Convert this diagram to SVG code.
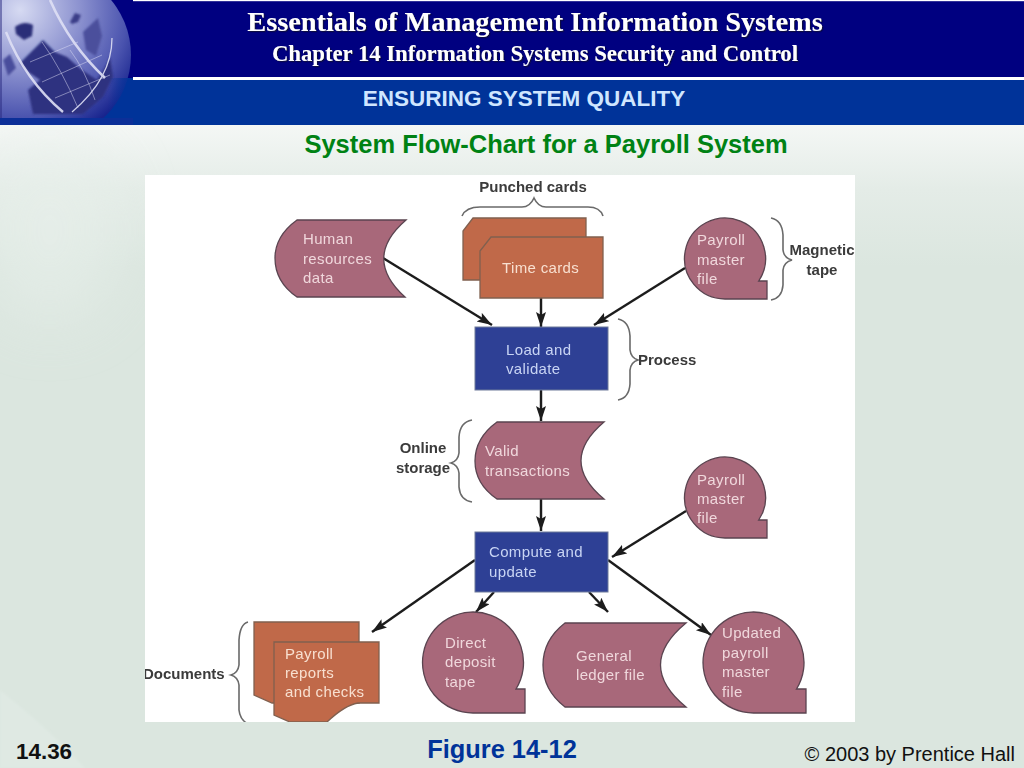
<svg xmlns="http://www.w3.org/2000/svg" width="1024" height="768" viewBox="0 0 1024 768">
<style>
.tape{fill:#a8677a;stroke:#5a4450;stroke-width:1.3}
.card{fill:#c0694a;stroke:#80604f;stroke-width:1.3}
.proc{fill:#2f4195;stroke:#6f7a9a;stroke-width:1}
.t{font-family:"Liberation Sans",Arial,sans-serif;font-size:15px;letter-spacing:.35px}
.lt{fill:#f0d8dc}.lc{fill:#f8e0d0}.lb{fill:#c8d4f4}
.lab{font-family:"Liberation Sans",Arial,sans-serif;font-size:15px;font-weight:bold;fill:#3a3a3a}
.br{fill:none;stroke:#6a6a6a;stroke-width:1.6}
.ar{fill:none;stroke:#1c1c1c;stroke-width:2.4;marker-end:url(#ah)}
.ttl{font-family:"Liberation Serif","Times New Roman",serif;font-weight:bold;fill:#fff;text-anchor:middle;filter:url(#sh)}
.sans{font-family:"Liberation Sans",Arial,sans-serif;font-weight:bold}
</style>
<defs>
<marker id="ah" markerUnits="userSpaceOnUse" markerWidth="16" markerHeight="12" refX="15" refY="5" orient="auto"><path d="M0 0L15 5L0 10L3 5Z" fill="#1c1c1c"/></marker>
<linearGradient id="bg" x1="0" y1="125" x2="0" y2="768" gradientUnits="userSpaceOnUse"><stop offset="0" stop-color="#f4f7f5"/><stop offset=".1" stop-color="#e4ece7"/><stop offset=".22" stop-color="#dbe6df"/><stop offset="1" stop-color="#dbe6df"/></linearGradient>
<radialGradient id="gl" gradientUnits="userSpaceOnUse" cx="20" cy="10" r="135"><stop offset="0" stop-color="#d6daf2"/><stop offset=".45" stop-color="#8b91cf"/><stop offset=".8" stop-color="#4a53ae"/><stop offset="1" stop-color="#18248e"/></radialGradient>
<linearGradient id="fade" x1="0" x2="1"><stop offset="0" stop-color="#003399" stop-opacity="0"/><stop offset="1" stop-color="#003399"/></linearGradient>
<filter id="sh" x="-5%" y="-30%" width="110%" height="160%"><feDropShadow dx="1.2" dy="1.2" stdDeviation=".5" flood-color="#101040"/></filter>
<filter id="soft"><feGaussianBlur stdDeviation=".45"/></filter>
<filter id="g1"><feGaussianBlur stdDeviation="1"/></filter>
<filter id="cloud" x="-50%" y="-50%" width="200%" height="200%"><feGaussianBlur stdDeviation="30"/></filter>
<clipPath id="gc"><rect x="0" y="0" width="133" height="118"/></clipPath>
<clipPath id="panel"><rect x="145" y="175" width="710" height="547"/></clipPath>
</defs>

<g id="background">
<rect width="1024" height="768" fill="url(#bg)"/>
<ellipse cx="50" cy="230" rx="70" ry="90" fill="#e8f0eb" opacity=".6" filter="url(#cloud)"/>
<path d="M0 690Q50 730 85 768H0Z" fill="#dfe9e3" filter="url(#g1)"/>
</g>

<g id="header">
<rect x="0" y="0" width="1024" height="78" fill="#000080"/>
<rect x="0" y="80" width="1024" height="45" fill="#003399"/>
<rect x="133" y="77" width="891" height="3" fill="#fff"/>
<rect x="133" y="0" width="891" height="1.2" fill="#fff"/>
<g id="globe" clip-path="url(#gc)">
<rect x="0" y="0" width="133" height="118" fill="#000080"/>
<rect x="0" y="78" width="133" height="40" fill="#003399"/>
<circle cx="45" cy="55" r="86" fill="url(#gl)"/>
<g filter="url(#g1)">
<path d="M33 50L43 40L55 52L67 57L82 70L97 80L106 66L110 57L113 77L103 97L83 114H33L28 90L40 80L28 72L20 63Z" fill="#2f3280"/>
<path d="M15 27Q24 20 33 25L32 36L24 40L16 34Z" fill="#2a2d78"/>
<path d="M70 22L75 13L81 15L78 22L72 24Z" fill="#3a3d88"/>
<path d="M83 32L98 18L102 36L96 56L86 50Z" fill="#4c4f9c"/>
<path d="M3 60L10 54L16 68L8 76Z" fill="#4a4e9c"/>
</g>
<g fill="none" stroke="#dfe0f5" opacity=".9">
<path d="M50 0Q70 45 105 78" stroke-width="2.6"/>
<path d="M6 32Q25 80 63 112" stroke-width="2.4"/>
<path d="M112 38Q112 78 72 112" stroke-width="1.3"/>
<path d="M30 62L78 42M42 82L102 55M55 98L110 75" stroke-width=".9" opacity=".6"/>
<path d="M42 42Q62 70 78 108M70 50Q85 70 95 100" stroke-width=".9" opacity=".6"/>
</g>
<rect x="0" y="0" width="2" height="118" fill="#2a2a80" opacity=".5"/>
<rect x="108" y="78" width="25" height="40" fill="url(#fade)"/>
</g>
<rect x="0" y="118" width="133" height="7" fill="#0c2f98"/>
<text class="ttl" x="535" y="31" font-size="28.300px">Essentials of Management Information Systems</text>
<text class="ttl" x="535" y="61" font-size="22.700px">Chapter 14 Information Systems Security and Control</text>
<text class="sans" x="524" y="106" font-size="22.500px" text-anchor="middle" fill="#cfe6ff">ENSURING SYSTEM QUALITY</text>
</g>

<text id="title" class="sans" x="546" y="153" font-size="25.500px" text-anchor="middle" fill="#008214">System Flow-Chart for a Payroll System</text>

<rect id="panel-bg" x="145" y="175" width="710" height="547" fill="#fff"/>

<g id="diagram" clip-path="url(#panel)">
<g filter="url(#soft)">
<g id="connectors">
<path class="ar" d="M383 258L492 325"/>
<path class="ar" d="M541 298V327"/>
<path class="ar" d="M685 268L594 325"/>
<path class="ar" d="M541 390V421"/>
<path class="ar" d="M541 499V531"/>
<path class="ar" d="M686 511L612 557"/>
<path class="ar" d="M475 560L372 632"/>
<path class="ar" d="M494 592L476 612"/>
<path class="ar" d="M589 592L608 612"/>
<path class="ar" d="M608 560L711 635"/>
</g>

<g id="node-human-resources">
<path class="tape" d="M297 220H406Q362 258 405 297H297Q275 282 275 258Q275 236 297 220Z"/>
<text class="t lt"><tspan x="303" y="244">Human</tspan><tspan x="303" y="264">resources</tspan><tspan x="303" y="283">data</tspan></text>
</g>
<g id="node-time-cards">
<path class="card" d="M473 218H586V280H463V231Z"/>
<path class="card" d="M491 237H603V298H480V251Z"/>
<text class="t lc" x="502" y="273">Time cards</text>
</g>
<g id="node-payroll-1">
<path class="tape" d="M767 299H725A40.500 40.500 0 1 1 758.700 281H767Z"/>
<text class="t lt"><tspan x="697" y="245">Payroll</tspan><tspan x="697" y="265">master</tspan><tspan x="697" y="284">file</tspan></text>
</g>
<g id="node-load-validate">
<rect class="proc" x="475" y="327" width="133" height="63"/>
<text class="t lb"><tspan x="506" y="355">Load and</tspan><tspan x="506" y="374">validate</tspan></text>
</g>
<g id="node-valid-transactions">
<path class="tape" d="M497 422H604Q558 461 604 499H497Q475 484 475 461Q475 438 497 422Z"/>
<text class="t lt"><tspan x="485" y="456">Valid</tspan><tspan x="485" y="476">transactions</tspan></text>
</g>
<g id="node-payroll-2">
<path class="tape" d="M767 538H725A40.500 40.500 0 1 1 758.700 520H767Z"/>
<text class="t lt"><tspan x="697" y="485">Payroll</tspan><tspan x="697" y="504">master</tspan><tspan x="697" y="523">file</tspan></text>
</g>
<g id="node-compute-update">
<rect class="proc" x="475" y="532" width="133" height="60"/>
<text class="t lb"><tspan x="489" y="557">Compute and</tspan><tspan x="489" y="577">update</tspan></text>
</g>
<g id="node-payroll-reports">
<path class="card" d="M254 622H359V703H272L254 695Z"/>
<path class="card" d="M274 642H379V703H358Q345 705 327 722H290L274 715Z"/>
<text class="t lc"><tspan x="285" y="659">Payroll</tspan><tspan x="285" y="678">reports</tspan><tspan x="285" y="697">and checks</tspan></text>
</g>
<g id="node-direct-deposit">
<path class="tape" d="M525 713H473A50.500 50.500 0 1 1 516 689H525Z"/>
<text class="t lt"><tspan x="445" y="648">Direct</tspan><tspan x="445" y="667">deposit</tspan><tspan x="445" y="687">tape</tspan></text>
</g>
<g id="node-general-ledger">
<path class="tape" d="M565 623H686Q635 665 686 707H565Q543 690 543 665Q543 640 565 623Z"/>
<text class="t lt"><tspan x="576" y="661">General</tspan><tspan x="576" y="680">ledger file</tspan></text>
</g>
<g id="node-updated-payroll">
<path class="tape" d="M806 713H753.500A50.500 50.500 0 1 1 796.500 689H806Z"/>
<text class="t lt"><tspan x="722" y="638">Updated</tspan><tspan x="722" y="658">payroll</tspan><tspan x="722" y="677">master</tspan><tspan x="722" y="697">file</tspan></text>
</g>

<g id="annotations">
<path class="br" d="M462 216Q466 207 480 207H522Q530 207 534 198Q538 207 546 207H588Q600 207 603 216"/>
<text class="lab" x="533" y="192" text-anchor="middle">Punched cards</text>
<path class="br" d="M771 218Q782 220 783 235V250Q784 258 792 260Q784 262 783 270V285Q782 298 771 300"/>
<text class="lab" x="822" y="255" text-anchor="middle">Magnetic</text>
<text class="lab" x="822" y="275" text-anchor="middle">tape</text>
<path class="br" d="M618 319Q629 321 630 336V350Q631 358 638 360Q631 362 630 370V384Q629 398 618 400"/>
<text class="lab" x="638" y="365">Process</text>
<path class="br" d="M472 420Q460 422 459 437V453Q458 461 451 463Q458 465 459 473V487Q460 500 472 502"/>
<text class="lab" x="423" y="453" text-anchor="middle">Online</text>
<text class="lab" x="423" y="473" text-anchor="middle">storage</text>
<path class="br" d="M248 622Q240 624 239 640V665Q238 673 231 675Q238 677 239 685V710Q240 720 248 724"/>
<text class="lab" x="143" y="679">Documents</text>
</g>
</g>
</g>

<g id="footer">
<text class="sans" x="16" y="759" font-size="22.400px" fill="#111">14.36</text>
<text class="sans" x="502" y="758" font-size="25.400px" text-anchor="middle" fill="#003399">Figure 14-12</text>
<text x="1015" y="761" font-size="20px" text-anchor="end" font-family="Liberation Sans,Arial,sans-serif" fill="#111">© 2003 by Prentice Hall</text>
</g>
</svg>
